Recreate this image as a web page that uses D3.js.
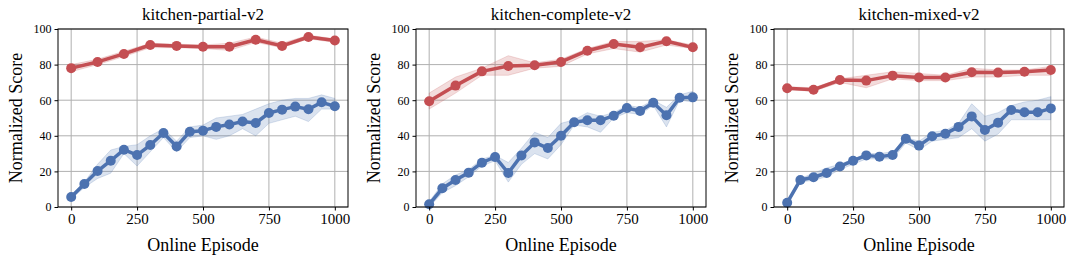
<!DOCTYPE html>
<html>
<head>
<meta charset="utf-8">
<script src="https://cdn.jsdelivr.net/npm/d3@7"></script>
<style>
  body { margin: 0; background: #fff; }
  text { font-family: "Liberation Serif", "Times New Roman", serif; }
</style>
</head>
<body>
<div id="chart"></div>
<script>
// episodes
var redX = [0, 100, 200, 300, 400, 500, 600, 700, 800, 900, 1000];
var blueX = [0, 50, 100, 150, 200, 250, 300, 350, 400, 450, 500, 550, 600, 650, 700, 750, 800, 850, 900, 950, 1000];

var titles = ["kitchen-partial-v2", "kitchen-complete-v2", "kitchen-mixed-v2"];
var xTicks = [0, 250, 500, 750, 1000];
var yTicks = [0, 20, 40, 60, 80, 100];

// kitchen-partial
var partialRed = [78, 81.5, 86, 91, 90.5, 90, 90, 94, 90.5, 95.5, 93.5];
var partialRedLo = [76, 80, 84.5, 89.5, 89.5, 89, 88, 92.5, 89.5, 94.5, 92.5];
var partialRedHi = [80, 83, 87.5, 92, 91.5, 91, 92, 95.5, 92, 96.5, 94.5];
var partialBlue = [5.6, 12.9, 20.2, 26, 32.2, 29.2, 34.8, 41.6, 34, 42.3, 42.9, 45, 46.3, 48, 47.2, 52.8, 54.7, 56.4, 54.9, 58.8, 56.6];
var partialBlueLo = [4.5, 11, 16, 19, 30, 23, 31, 39, 31, 39, 40, 38, 40, 44, 40, 47, 49, 51, 48, 55, 55];
var partialBlueHi = [6.5, 14, 24, 32, 34, 35, 40, 44, 37, 45, 46, 50, 51, 52, 55, 58, 60, 61, 61, 63, 61];

// kitchen-complete
var completeRed = [59.4, 68.2, 76.2, 79.2, 79.6, 81.5, 87.8, 91.6, 89.7, 93.1, 89.7];
var completeRedLo = [55, 64, 74, 74, 78, 79, 86, 89, 87, 91, 89];
var completeRedHi = [64, 73, 78, 85, 81, 83, 89, 93, 93, 94, 91];
var completeBlue = [1.5, 10.5, 15.2, 19.3, 24.9, 28.1, 19.1, 29, 36.3, 33.1, 40, 47.6, 48.7, 48.7, 51.3, 55.6, 53.9, 58.6, 51.5, 61.4, 61.6];
var completeBlueLo = [0, 8, 12, 17, 23, 26, 14, 24, 30, 27, 35, 46, 45, 42, 50, 53, 52, 57, 45, 60, 59];
var completeBlueHi = [3, 13, 18, 21, 27, 29, 25, 33, 42, 39, 47, 49, 53, 51, 53, 57, 56, 60, 56, 63, 65];

// kitchen-mixed
var mixedRed = [66.7, 65.9, 71.3, 71, 73.8, 72.8, 72.8, 75.7, 75.5, 76, 77];
var mixedRedLo = [66, 65, 70, 67, 72, 71, 71, 73, 73, 74, 74];
var mixedRedHi = [67.5, 67, 72, 74, 76, 75, 74, 78, 77, 77, 79];
var mixedBlue = [2.4, 15.2, 16.7, 19.1, 22.8, 26, 29, 28.3, 29.2, 38.4, 34.5, 39.7, 41.2, 45, 50.9, 43.3, 47.4, 54.5, 53.2, 53.2, 55.4];
var mixedBlueLo = [1, 14, 15, 17, 21, 24, 27, 27, 27, 36, 32, 37, 38, 39, 44, 37, 41, 49, 49, 49, 49];
var mixedBlueHi = [3, 16, 19, 22, 24, 27, 30, 30, 31, 39, 37, 42, 43, 47, 58, 51, 53, 57, 59, 60, 62];

var panels = [
    {red: partialRed, redLo: partialRedLo, redHi: partialRedHi, blue: partialBlue, blueLo: partialBlueLo, blueHi: partialBlueHi},
    {red: completeRed, redLo: completeRedLo, redHi: completeRedHi, blue: completeBlue, blueLo: completeBlueLo, blueHi: completeBlueHi},
    {red: mixedRed, redLo: mixedRedLo, redHi: mixedRedHi, blue: mixedBlue, blueLo: mixedBlueLo, blueHi: mixedBlueHi}
];

var red = "#c44e52", blue = "#4c72b0";
var width = 290, height = 178, marginTop = 29;

var svg = d3.select("#chart").append("svg")
    .attr("width", 1076)
    .attr("height", 256);

var x = d3.scaleLinear().domain([-50, 1050]).range([0, width]);
var y = d3.scaleLinear().domain([0, 100]).range([height, 0]);

panels.forEach(function (p, i) {
    var g = svg.append("g")
        .attr("transform", "translate(" + (58 + i * 358) + "," + marginTop + ")");

    // grid
    g.selectAll(".gx").data(xTicks).enter().append("line")
        .attr("x1", function (d) { return x(d); }).attr("x2", function (d) { return x(d); })
        .attr("y1", 0).attr("y2", height)
        .style("stroke", "#b0b0b0").style("stroke-width", 1);
    g.selectAll(".gy").data(yTicks).enter().append("line")
        .attr("x1", 0).attr("x2", width)
        .attr("y1", function (d) { return y(d); }).attr("y2", function (d) { return y(d); })
        .style("stroke", "#b0b0b0").style("stroke-width", 1);

    function drawSeries(xs, vals, lo, hi, color) {
        var area = d3.area()
            .x(function (d, k) { return x(xs[k]); })
            .y0(function (d, k) { return y(lo[k]); })
            .y1(function (d, k) { return y(hi[k]); });
        g.append("path").datum(vals)
            .attr("d", area)
            .style("fill", color).style("fill-opacity", 0.2)
            .style("stroke", color).style("stroke-opacity", 0.2);

        var line = d3.line()
            .x(function (d, k) { return x(xs[k]); })
            .y(function (d) { return y(d); });
        g.append("path").datum(vals)
            .attr("d", line)
            .style("fill", "none").style("stroke", color).style("stroke-width", 3.5)
            .style("stroke-linejoin", "round");

        g.selectAll(null).data(vals).enter().append("circle")
            .attr("cx", function (d, k) { return x(xs[k]); })
            .attr("cy", function (d) { return y(d); })
            .attr("r", 5)
            .style("fill", color);
    }

    drawSeries(redX, p.red, p.redLo, p.redHi, red);
    drawSeries(blueX, p.blue, p.blueLo, p.blueHi, blue);

    // frame
    g.append("rect").attr("width", width).attr("height", height)
        .style("fill", "none").style("stroke", "#000").style("stroke-width", 1);

    var xa = g.append("g")
        .attr("transform", "translate(0," + height + ")")
        .call(d3.axisBottom(x).tickValues(xTicks).tickSize(3.5).tickPadding(3).tickFormat(d3.format("d")));
    xa.select(".domain").remove();
    xa.selectAll("text").style("font-size", "15px").style("font-family", "Liberation Serif").attr("fill", "#000");

    var ya = g.append("g")
        .call(d3.axisLeft(y).tickValues(yTicks).tickSize(3.5).tickPadding(3));
    ya.select(".domain").remove();
    ya.selectAll("text").style("font-size", "12px").style("font-family", "Liberation Serif").attr("fill", "#000");

    g.append("text")
        .attr("x", width / 2).attr("y", -9)
        .attr("text-anchor", "middle")
        .style("font-size", "17px")
        .text(titles[i]);

    g.append("text")
        .attr("x", width / 2).attr("y", height + 44)
        .attr("text-anchor", "middle")
        .style("font-size", "18px")
        .text("Online Episode");

    g.append("text")
        .attr("transform", "rotate(-90)")
        .attr("x", -height / 2).attr("y", -36)
        .attr("text-anchor", "middle")
        .style("font-size", "18px")
        .text("Normalized Score");
});
</script>
</body>
</html>
